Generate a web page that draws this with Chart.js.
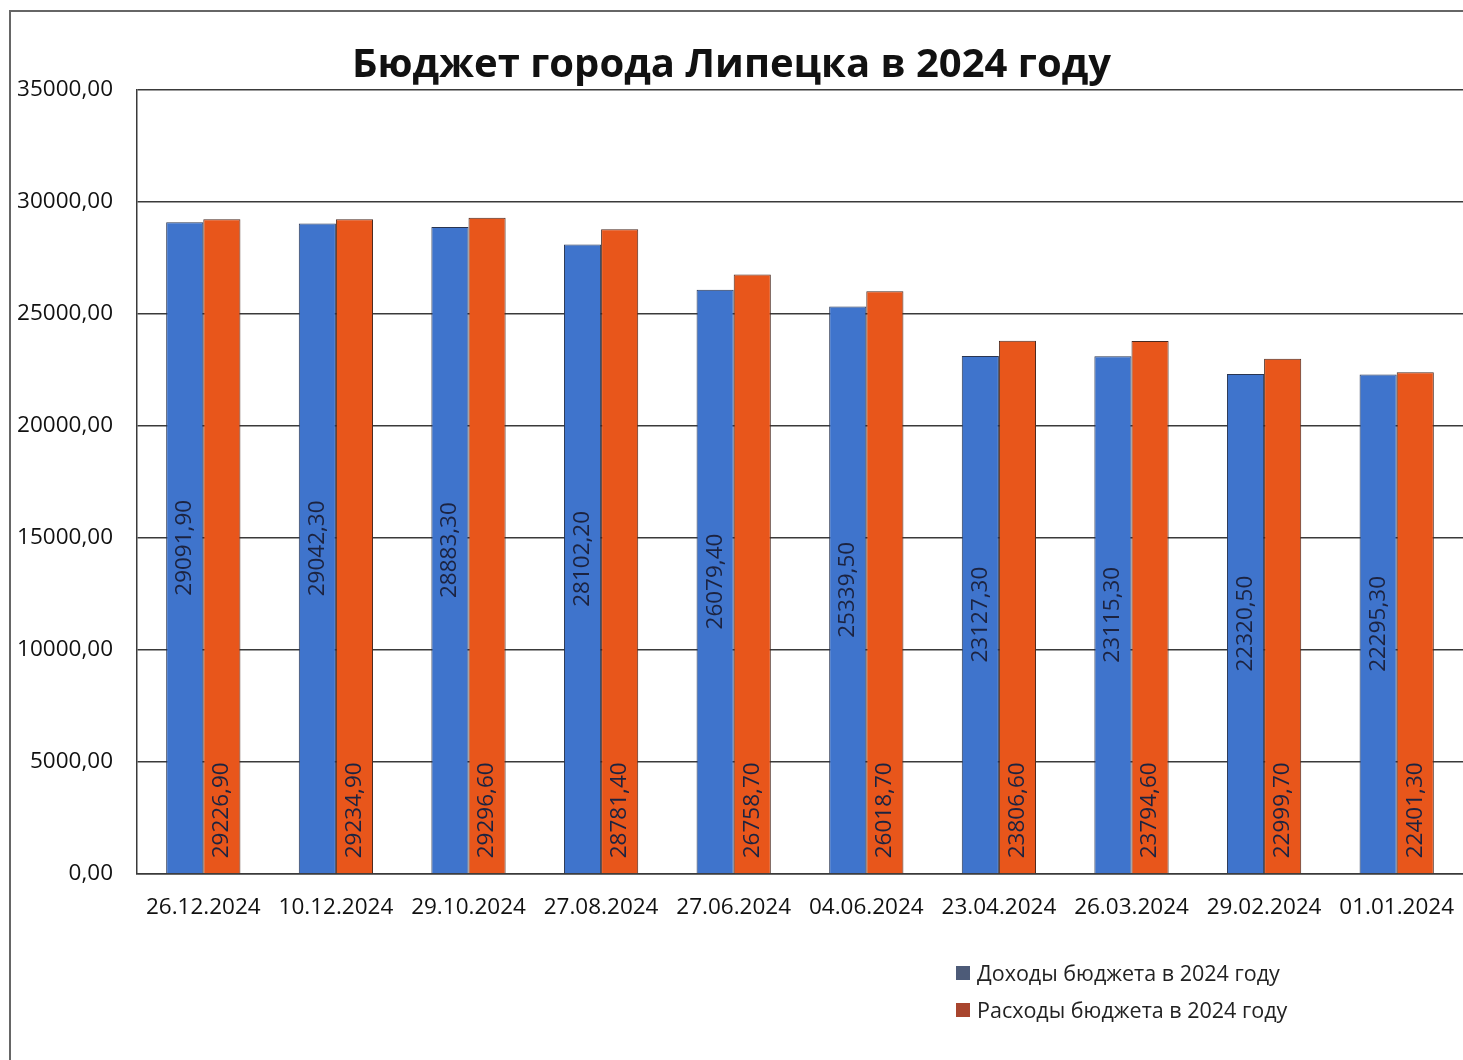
<!DOCTYPE html>
<html lang="ru">
<head>
<meta charset="utf-8">
<title>Бюджет города Липецка в 2024 году</title>
<script src="https://cdn.jsdelivr.net/npm/chart.js@4/dist/chart.umd.min.js"></script>
<style>
    html, body { margin: 0; padding: 0; background: #fff; }
    #wrap { position: relative; width: 1463px; height: 1060px; }
    #legend {
        position: absolute; left: 956px; top: 954px;
        font-family: "Open Sans", "Noto Sans", sans-serif; font-size: 21.5px; color: #222;
    }
    .leg-item { display: flex; align-items: center; height: 37px; }
    .leg-box { width: 14px; height: 14px; margin-right: 7px; }
</style>
</head>
<body>
<div id="wrap">
    <canvas id="chart" width="1463" height="1060"></canvas>
    <div id="legend"></div>
</div>
<script>
const dates = ['26.12.2024', '10.12.2024', '29.10.2024', '27.08.2024', '27.06.2024',
               '04.06.2024', '23.04.2024', '26.03.2024', '29.02.2024', '01.01.2024'];
const income = [29091.90, 29042.30, 28883.30, 28102.20, 26079.40,
                25339.50, 23127.30, 23115.30, 22320.50, 22295.30];
const expenses = [29226.90, 29234.90, 29296.60, 28781.40, 26758.70,
                  26018.70, 23806.60, 23794.60, 22999.70, 22401.30];
const seriesNames = ['Доходы бюджета в 2024 году', 'Расходы бюджета в 2024 году'];
const legendColors = ['#4d5b78', '#a8452e'];

const fmt = v => v.toFixed(2).replace('.', ',');
const FONT = '"Open Sans", "Noto Sans", sans-serif';

// outer frame of the sheet
const framePlugin = {
    id: 'frame',
    beforeDraw(chart) {
        const ctx = chart.ctx;
        ctx.save();
        ctx.strokeStyle = '#666';
        ctx.lineWidth = 2;
        ctx.beginPath();
        ctx.moveTo(10, 1060);
        ctx.lineTo(10, 11);
        ctx.lineTo(1463, 11);
        ctx.stroke();
        ctx.restore();
    }
};

// rotated value labels: income in the middle of the bar, expenses at the base
const valueLabels = {
    id: 'valueLabels',
    afterDatasetsDraw(chart) {
        const ctx = chart.ctx;
        ctx.save();
        ctx.font = '22.5px ' + FONT;
        ctx.fillStyle = '#1c2340';
        ctx.textBaseline = 'middle';
        chart.data.datasets.forEach((ds, di) => {
            chart.getDatasetMeta(di).data.forEach((bar, i) => {
                const txt = fmt(ds.data[i]);
                ctx.save();
                if (di === 0) {
                    ctx.translate(bar.x, (bar.y + bar.base) / 2);
                    ctx.rotate(-Math.PI / 2);
                    ctx.textAlign = 'center';
                    ctx.fillText(txt, 0, 0);
                } else {
                    ctx.translate(bar.x, bar.base - 15);
                    ctx.rotate(-Math.PI / 2);
                    ctx.textAlign = 'left';
                    ctx.fillText(txt, 0, 0);
                }
                ctx.restore();
            });
        });
        ctx.restore();
    }
};

function barGradient(ctx, dark, mid, light) {
    const area = ctx.chart.chartArea;
    const el = ctx.element;
    if (!area || !el || !el.width) return mid;
    const x0 = el.x - el.width / 2, x1 = el.x + el.width / 2;
    const g = ctx.chart.ctx.createLinearGradient(x0, 0, x1, 0);
    g.addColorStop(0, dark);
    g.addColorStop(0.15, mid);
    g.addColorStop(0.5, light);
    g.addColorStop(0.85, mid);
    g.addColorStop(1, dark);
    return g;
}

const chart = new Chart(document.getElementById('chart'), {
    type: 'bar',
    data: {
        labels: dates,
        datasets: [
            {
                label: seriesNames[0],
                data: income,
                backgroundColor: c => barGradient(c, '#3560b0', '#3f74cc', '#4a80d6'),
                borderColor: '#2a3550',
                borderWidth: 1
            },
            {
                label: seriesNames[1],
                data: expenses,
                backgroundColor: c => barGradient(c, '#d04a12', '#e8561b', '#f0641f'),
                borderColor: '#4a2a20',
                borderWidth: 1
            }
        ]
    },
    options: {
        responsive: false,
        animation: false,
        layout: { padding: { left: 0, right: 0, top: 0, bottom: 0 } },
        datasets: { bar: { categoryPercentage: 0.56, barPercentage: 1 } },
        scales: {
            y: {
                min: 0,
                max: 35000,
                ticks: {
                    stepSize: 5000,
                    padding: 24,
                    color: '#111',
                    font: { family: FONT, size: 22.5 },
                    callback: v => fmt(v)
                },
                grid: { color: '#3a3a3a', lineWidth: 1.5, drawTicks: false },
                border: { display: true, color: '#3a3a3a', width: 1.5 },
                afterFit(scale) { scale.width = 137; }
            },
            x: {
                ticks: {
                    padding: 20,
                    color: '#111',
                    maxRotation: 0,
                    font: { family: FONT, size: 22.5 }
                },
                grid: { display: false, drawTicks: false },
                border: { display: true, color: '#3a3a3a', width: 1.5 },
                afterFit(scale) {
                    scale.height = 186;
                    scale.paddingRight = 0;
                    scale.paddingLeft = 0;
                }
            }
        },
        plugins: {
            legend: { display: false },
            tooltip: { enabled: false },
            title: {
                display: true,
                text: 'Бюджет города Липецка в 2024 году',
                color: '#111',
                font: { family: FONT, size: 40, weight: 'bold', lineHeight: 1.2 },
                padding: { top: 42, bottom: 0 }
            }
        }
    },
    plugins: [framePlugin, valueLabels]
});

document.getElementById('legend').innerHTML = seriesNames.map((name, i) => `
    <div class="leg-item">
        <span class="leg-box" style="background:${legendColors[i]}"></span>${name}
    </div>`).join('');
</script>
</body>
</html>
